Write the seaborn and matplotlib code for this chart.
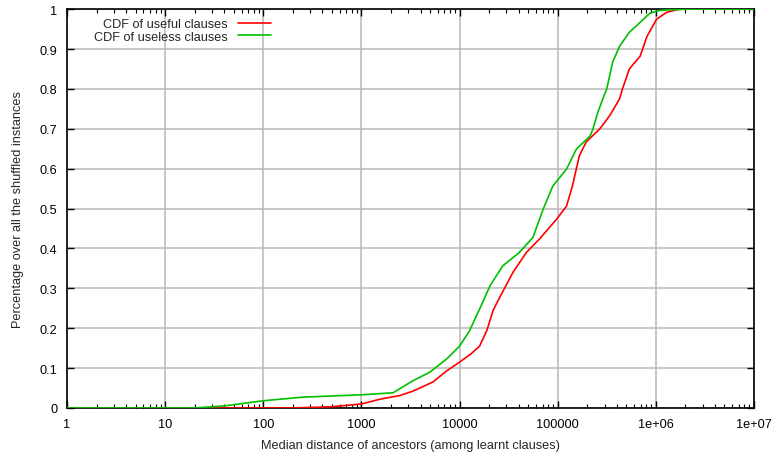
import matplotlib
matplotlib.use("Agg")
import matplotlib.pyplot as plt
import matplotlib.ticker as mticker
import numpy as np
import pandas as pd
import seaborn as sns

# CDF of useful clauses: median ancestor distance -> cumulative fraction
useful_x = [1, 200, 500, 1000, 1550, 2450, 3340, 5350, 7400, 10000, 13000, 16000,
            19000, 22000, 26000, 35000, 48000, 66000, 98000, 123000, 141000, 166000,
            195000, 269000, 339000, 427000, 457000, 537000, 692000, 813000, 1020000,
            1290000, 1740000, 10000000]
useful_y = [0, 0, 0.003, 0.01, 0.022, 0.031, 0.042, 0.065, 0.093, 0.115, 0.135, 0.155,
            0.195, 0.245, 0.28, 0.34, 0.39, 0.425, 0.474, 0.506, 0.556, 0.632,
            0.667, 0.70, 0.733, 0.775, 0.80, 0.85, 0.882, 0.932, 0.975,
            0.992, 1.0, 1.0]

# CDF of useless clauses
useless_x = [1, 20, 40, 100, 250, 1000, 2100, 2450, 3340, 5000, 7400, 10000, 12600,
             16000, 20400, 27500, 40700, 56000, 71000, 89000, 123000, 155000, 214000,
             229000, 257000, 288000, 316000, 363000, 427000, 537000, 692000, 871000,
             1100000, 2100000, 10000000]
useless_y = [0, 0, 0.005, 0.018, 0.027, 0.033, 0.038, 0.048, 0.068, 0.09, 0.123, 0.155,
             0.193, 0.248, 0.306, 0.356, 0.39, 0.428, 0.498, 0.556, 0.599, 0.649, 0.682,
             0.70, 0.742, 0.775, 0.80, 0.867, 0.907, 0.942, 0.967, 0.99,
             0.997, 1.0, 1.0]

series_names = ["CDF of useful clauses", "CDF of useless clauses"]
series_colors = ["#ff0000", "#00c000"]

x_ticks = [1, 10, 100, 1000, 10000, 100000, 1e6, 1e7]
x_tick_labels = ["1", "10", "100", "1000", "10000", "100000", "1e+06", "1e+07"]
y_ticks = [0, 0.1, 0.2, 0.3, 0.4, 0.5, 0.6, 0.7, 0.8, 0.9, 1.0]
y_tick_labels = ["0", "0.1", "0.2", "0.3", "0.4", "0.5", "0.6", "0.7", "0.8", "0.9", "1"]

df = pd.concat([
    pd.DataFrame({"x": useful_x, "y": useful_y, "series": series_names[0]}),
    pd.DataFrame({"x": useless_x, "y": useless_y, "series": series_names[1]}),
], ignore_index=True)

sns.set_style("ticks")
plt.rcParams["font.family"] = ["Liberation Sans", "DejaVu Sans"]
plt.rcParams["font.size"] = 9.2

fig, ax = plt.subplots(figsize=(7.73, 4.60), dpi=100)
fig.subplots_adjust(left=0.0867, right=0.9754, top=0.978, bottom=0.111)

sns.lineplot(data=df, x="x", y="y", hue="series", hue_order=series_names,
             palette=series_colors, linewidth=1.2, ax=ax, sort=False,
             estimator=None, zorder=3)

ax.set_xscale("log")
ax.set_xlim(1, 1e7)
ax.set_ylim(0, 1)

ax.xaxis.set_major_locator(mticker.FixedLocator(x_ticks))
ax.set_xticklabels(x_tick_labels)
ax.xaxis.set_minor_locator(mticker.LogLocator(base=10, subs=np.arange(2, 10)))
ax.xaxis.set_minor_formatter(mticker.NullFormatter())
ax.set_yticks(y_ticks)
ax.set_yticklabels(y_tick_labels)

ax.tick_params(which="major", direction="in", length=5, width=1.0,
               top=True, right=True, colors="#000000", labelsize=9.2, pad=7)
ax.tick_params(which="minor", direction="in", length=3, width=0.8,
               top=True, right=False, colors="#000000")

ax.grid(True, which="major", color="#b8b8b8", linewidth=1.1, zorder=0)
ax.set_axisbelow(True)
for sp in ax.spines.values():
    sp.set_visible(True)
    sp.set_color("#000000")
    sp.set_linewidth(1.2)

ax.set_xlabel("Median distance of ancestors (among learnt clauses)", fontsize=9.2, labelpad=7)
ax.set_ylabel("Percentage over all the shuffled instances", fontsize=9.2)
ax.yaxis.set_label_coords(-0.0626, 0.5)

ax.legend(loc="upper left", bbox_to_anchor=(0.026, 1.0), frameon=False,
          markerfirst=False, handlelength=2.6, fontsize=9.2,
          labelspacing=0.05, handletextpad=0.8, borderaxespad=0.3)

fig.savefig("out.png", dpi=100)
